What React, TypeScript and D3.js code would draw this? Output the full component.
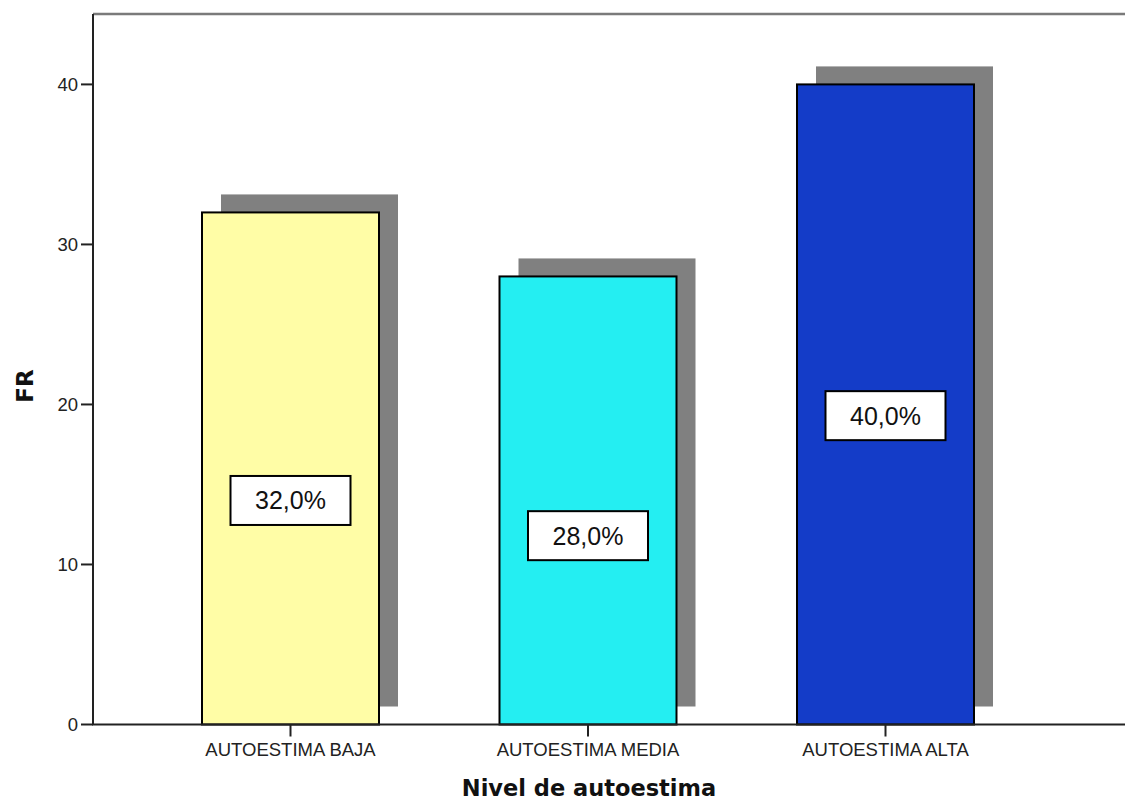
import React from "react";
import * as d3 from "d3";

// Nivel de autoestima — frecuencia relativa (%)
const categories = ["AUTOESTIMA BAJA", "AUTOESTIMA MEDIA", "AUTOESTIMA ALTA"];
const frValues = [32, 28, 40];
const barColors = ["#FFFDA6", "#24EEF2", "#143CC8"];
// height (in FR units) at which each value box is anchored
const labelLevels = [14, 11.8, 19.3];
const yTicks = [0, 10, 20, 30, 40];

const W = 1125;
const H = 800;
const plotLeft = 93;
const plotTop = 14;
const plotBottom = 724.5;
const barWidth = 177;
const shadowDx = 19;
const shadowDy = -18;

const fmt = (v: number) => v.toFixed(1).replace(".", ",") + "%";

export default function App() {
  const y = d3.scaleLinear().domain([0, 44.4]).range([plotBottom, plotTop]);
  const x = d3.scalePoint<string>().domain(categories).range([290.5, 885.5]);

  return (
    <svg
      width={W}
      height={H}
      style={{ position: "absolute", left: 0, top: 0, background: "#fff" }}
      fontFamily="'Liberation Sans', Arial, sans-serif"
    >
      {/* frame top */}
      <line x1={plotLeft} x2={W} y1={plotTop} y2={plotTop} stroke="#7a7a7a" strokeWidth={2.5} />

      {/* shadows */}
      {categories.map((c, i) => {
        const cx = x(c)!;
        return (
          <rect
            key={"s" + c}
            x={cx - barWidth / 2 + shadowDx}
            y={y(frValues[i]) + shadowDy}
            width={barWidth}
            height={y(0) - y(frValues[i])}
            fill="#808080"
          />
        );
      })}

      {/* bars */}
      {categories.map((c, i) => {
        const cx = x(c)!;
        return (
          <rect
            key={"b" + c}
            x={cx - barWidth / 2}
            y={y(frValues[i])}
            width={barWidth}
            height={y(0) - y(frValues[i])}
            fill={barColors[i]}
            stroke="#000"
            strokeWidth={2}
          />
        );
      })}

      {/* value boxes */}
      {categories.map((c, i) => {
        const cx = x(c)!;
        const cy = y(labelLevels[i]);
        return (
          <g key={"l" + c}>
            <rect x={cx - 60} y={cy - 24.5} width={120} height={49} fill="#fff" stroke="#000" strokeWidth={2} />
            <text x={cx} y={cy + 9} textAnchor="middle" fontSize={25} fill="#111">
              {fmt(frValues[i])}
            </text>
          </g>
        );
      })}

      {/* y axis */}
      <line x1={plotLeft} x2={plotLeft} y1={plotTop} y2={plotBottom} stroke="#222" strokeWidth={2} />
      {yTicks.map((t) => (
        <g key={"yt" + t}>
          <line x1={plotLeft - 12} x2={plotLeft} y1={y(t)} y2={y(t)} stroke="#222" strokeWidth={2} />
          <text x={plotLeft - 15} y={y(t) + 6.5} textAnchor="end" fontSize={18.5} fill="#222">
            {t}
          </text>
        </g>
      ))}

      {/* x axis */}
      <line x1={plotLeft - 1} x2={W} y1={plotBottom} y2={plotBottom} stroke="#222" strokeWidth={2} />
      {categories.map((c) => (
        <g key={"xt" + c}>
          <line x1={x(c)!} x2={x(c)!} y1={plotBottom} y2={plotBottom + 12} stroke="#222" strokeWidth={2} />
          <text x={x(c)!} y={756} textAnchor="middle" fontSize={18.5} fill="#222">
            {c}
          </text>
        </g>
      ))}

      {/* axis titles */}
      <text
        x={589}
        y={796}
        textAnchor="middle"
        fontSize={22.5}
        fontWeight="bold"
        fontFamily="'DejaVu Sans', Verdana, sans-serif"
        fill="#111"
      >
        Nivel de autoestima
      </text>
      <text
        transform="translate(33,386) rotate(-90)"
        textAnchor="middle"
        fontSize={23}
        fontWeight="bold"
        fontFamily="'DejaVu Sans', Verdana, sans-serif"
        fill="#111"
      >
        FR
      </text>
    </svg>
  );
}
